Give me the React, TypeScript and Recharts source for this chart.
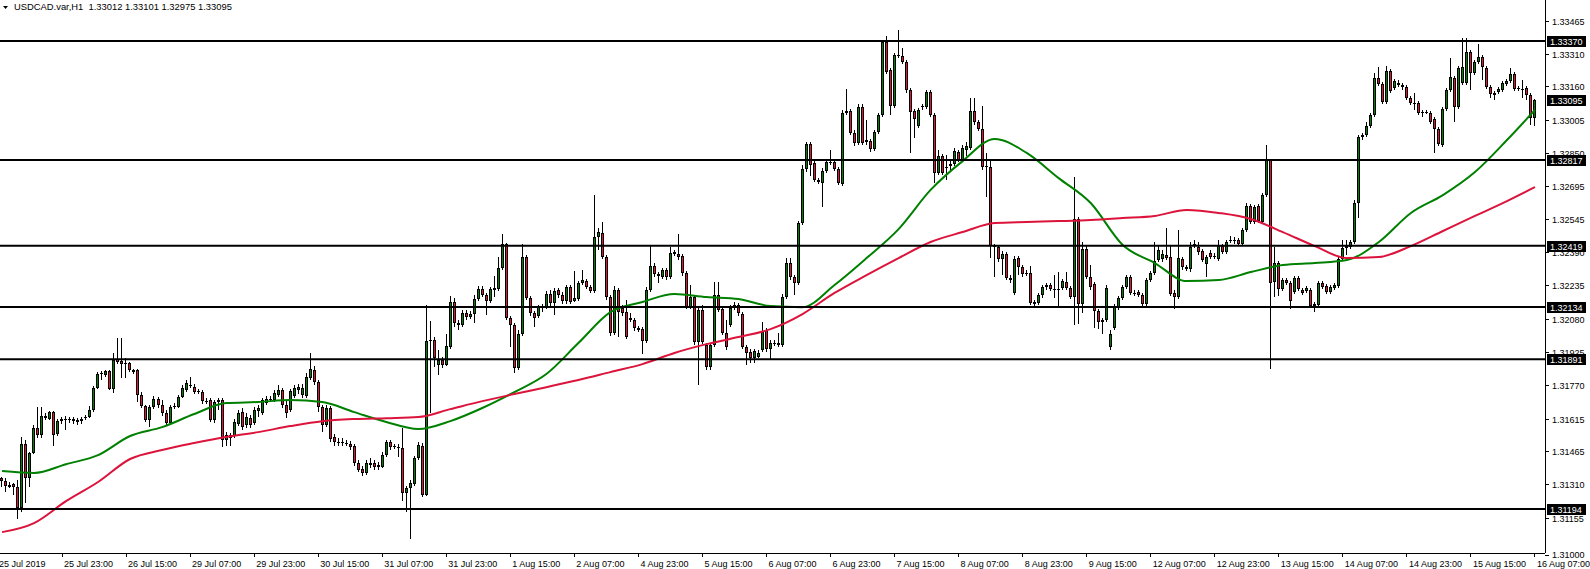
import React from 'react';
import { ComposedChart, Bar, Line, XAxis, YAxis, ReferenceLine } from 'recharts';

const FONT = '"Liberation Sans", Arial, sans-serif';
const GREEN = '#008000';
const RED = '#dc143c';
const AXIS_X = 1545;
const PLOT_BOTTOM = 553;

const opens = [
1.31338,1.31324,1.31306,1.31310,1.31296,1.31199,1.31496,1.31338,1.31455,1.31571,1.31538,1.31627,1.31613,1.31645,1.31543,1.31603,
1.31613,1.31608,1.31613,1.31608,1.31603,1.31617,1.31622,1.31655,1.31757,1.31822,1.31817,1.31836,1.31752,1.31892,1.31882,1.31875,
1.31873,1.31840,1.31840,1.31724,1.31673,1.31608,1.31668,1.31706,1.31678,1.31641,1.31594,1.31668,1.31668,1.31715,1.31748,1.31773,
1.31761,1.31738,1.31738,1.31698,1.31701,1.31608,1.31692,1.31701,1.31515,1.31538,1.31534,1.31589,1.31645,1.31585,1.31617,1.31594,
1.31650,1.31641,1.31687,1.31704,1.31701,1.31724,1.31748,1.31678,1.31655,1.31720,1.31748,1.31724,1.31720,1.31803,1.31840,1.31785,
1.31668,1.31585,1.31664,1.31529,1.31506,1.31501,1.31503,1.31496,1.31487,1.31408,1.31380,1.31362,1.31408,1.31408,1.31399,1.31389,
1.31445,1.31506,1.31487,1.31482,1.31478,1.31269,1.31292,1.31310,1.31431,1.31487,1.31259,1.31975,1.31980,1.31864,1.31887,1.31864,
1.31947,1.32157,1.32059,1.32050,1.32106,1.32087,1.32101,1.32171,1.32217,1.32189,1.32161,1.32215,1.32217,1.32315,1.32426,1.32082,
1.32050,1.31850,1.32008,1.32366,1.32175,1.32106,1.32092,1.32133,1.32133,1.32194,1.32152,1.32213,1.32189,1.32161,1.32226,1.32161,
1.32171,1.32245,1.32254,1.32226,1.32208,1.32459,1.32478,1.32366,1.32180,1.32013,1.32213,1.32129,1.32110,1.32082,1.32073,1.32036,
1.32031,1.31975,1.32213,1.32324,1.32287,1.32273,1.32306,1.32273,1.32380,1.32380,1.32371,1.32292,1.32133,1.32180,1.31971,1.32120,
1.31957,1.31854,1.31957,1.32189,1.32124,1.32013,1.32050,1.32129,1.32143,1.32101,1.31947,1.31924,1.31896,1.31901,1.31934,1.32027,
1.31938,1.31968,1.31966,1.31957,1.32180,1.32338,1.32273,1.32245,1.32524,1.32775,1.32891,1.32803,1.32724,1.32710,1.32766,1.32810,
1.32808,1.32775,1.32705,1.33036,1.33045,1.32943,1.32896,1.33063,1.32910,1.32905,1.32868,1.32947,1.33026,1.33366,1.33236,1.33068,
1.33301,1.33301,1.33273,1.33143,1.33045,1.32975,1.33063,1.33063,1.33133,1.33026,1.32757,1.32836,1.32784,1.32798,1.32798,1.32854,
1.32817,1.32864,1.32873,1.33045,1.32994,1.32961,1.32789,1.32784,1.32417,1.32412,1.32357,1.32380,1.32268,1.32199,1.32361,1.32319,
1.32292,1.32292,1.32157,1.32152,1.32189,1.32226,1.32236,1.32219,1.32215,1.32222,1.32250,1.32222,1.32180,1.32543,1.32147,1.32403,
1.32273,1.32240,1.32115,1.32073,1.32073,1.31947,1.32036,1.32133,1.32175,1.32226,1.32273,1.32201,1.32203,1.32189,1.32147,1.32259,
1.32292,1.32352,1.32357,1.32375,1.32366,1.32199,1.32180,1.32357,1.32319,1.32310,1.32422,1.32412,1.32394,1.32333,1.32385,1.32371,
1.32357,1.32417,1.32389,1.32440,1.32447,1.32445,1.32426,1.32492,1.32603,1.32529,1.32603,1.32529,1.32654,1.32817,1.32250,1.32338,
1.32217,1.32259,1.32245,1.32203,1.32268,1.32213,1.32208,1.32213,1.32147,1.32143,1.32245,1.32231,1.32203,1.32222,1.32231,1.32357,
1.32408,1.32412,1.32436,1.32617,1.32924,1.32933,1.32975,1.33026,1.33198,1.33170,1.33087,1.33231,1.33152,1.33175,1.33166,1.33156,
1.33105,1.33080,1.33082,1.33040,1.33038,1.33036,1.33008,1.32961,1.32887,1.33054,1.33143,1.33198,1.33063,1.33175,1.33175,1.33319,
1.33222,1.33273,1.33296,1.33245,1.33156,1.33129,1.33133,1.33143,1.33170,1.33184,1.33217,1.33152,1.33149,1.33152,1.33119,1.33012
];

const highs = [
1.31343,1.31338,1.31320,1.31315,1.31329,1.31529,1.31515,1.31459,1.31585,1.31668,1.31668,1.31641,1.31650,1.31650,1.31613,1.31622,
1.31627,1.31622,1.31622,1.31617,1.31622,1.31631,1.31673,1.31766,1.31831,1.31836,1.31840,1.31840,1.31920,1.31989,1.31989,1.31896,
1.31878,1.31845,1.31845,1.31738,1.31678,1.31678,1.31720,1.31715,1.31701,1.31655,1.31678,1.31687,1.31724,1.31771,1.31794,1.31808,
1.31775,1.31752,1.31748,1.31710,1.31710,1.31701,1.31710,1.31710,1.31552,1.31548,1.31613,1.31655,1.31664,1.31641,1.31631,1.31668,
1.31678,1.31710,1.31720,1.31720,1.31748,1.31771,1.31757,1.31701,1.31752,1.31771,1.31775,1.31775,1.31827,1.31920,1.31859,1.31794,
1.31678,1.31678,1.31673,1.31543,1.31524,1.31524,1.31515,1.31510,1.31496,1.31422,1.31394,1.31422,1.31431,1.31422,1.31413,1.31459,
1.31515,1.31515,1.31496,1.31496,1.31571,1.31301,1.31329,1.31441,1.31506,1.31501,1.32143,1.32068,1.31994,1.31934,1.31901,1.32008,
1.32185,1.32175,1.32073,1.32120,1.32120,1.32115,1.32189,1.32231,1.32231,1.32199,1.32226,1.32278,1.32366,1.32473,1.32431,1.32092,
1.32059,1.32027,1.32426,1.32375,1.32185,1.32115,1.32143,1.32147,1.32208,1.32213,1.32222,1.32222,1.32203,1.32236,1.32236,1.32301,
1.32254,1.32306,1.32264,1.32236,1.32654,1.32501,1.32529,1.32375,1.32189,1.32231,1.32222,1.32143,1.32166,1.32106,1.32082,1.32045,
1.32040,1.32226,1.32417,1.32338,1.32296,1.32315,1.32315,1.32412,1.32399,1.32473,1.32380,1.32301,1.32236,1.32189,1.32129,1.32143,
1.31966,1.31966,1.32250,1.32250,1.32133,1.32073,1.32143,1.32157,1.32152,1.32110,1.31957,1.31938,1.31938,1.31934,1.32064,1.32036,
1.31980,1.31980,1.32013,1.32194,1.32361,1.32361,1.32282,1.32533,1.32794,1.32901,1.32901,1.32812,1.32733,1.32780,1.32817,1.32864,
1.32817,1.32784,1.33050,1.33147,1.33054,1.32957,1.33077,1.33077,1.33003,1.32915,1.32957,1.33036,1.33375,1.33394,1.33245,1.33315,
1.33422,1.33338,1.33282,1.33152,1.33054,1.33059,1.33077,1.33143,1.33143,1.33036,1.32864,1.32845,1.32840,1.32817,1.32873,1.32864,
1.32887,1.32901,1.33105,1.33105,1.33003,1.33068,1.32850,1.32817,1.32426,1.32422,1.32394,1.32389,1.32282,1.32371,1.32371,1.32329,
1.32306,1.32324,1.32166,1.32199,1.32236,1.32245,1.32245,1.32282,1.32296,1.32264,1.32296,1.32231,1.32738,1.32552,1.32436,1.32417,
1.32329,1.32250,1.32124,1.32082,1.32236,1.32027,1.32147,1.32185,1.32236,1.32282,1.32282,1.32213,1.32213,1.32199,1.32268,1.32301,
1.32436,1.32422,1.32399,1.32501,1.32422,1.32213,1.32492,1.32366,1.32329,1.32436,1.32445,1.32436,1.32403,1.32375,1.32399,1.32385,
1.32445,1.32426,1.32445,1.32464,1.32459,1.32454,1.32501,1.32617,1.32612,1.32608,1.32612,1.32664,1.32887,1.32822,1.32412,1.32347,
1.32268,1.32268,1.32254,1.32278,1.32278,1.32222,1.32231,1.32222,1.32157,1.32254,1.32254,1.32240,1.32236,1.32245,1.32366,1.32445,
1.32445,1.32445,1.32631,1.32933,1.32943,1.32994,1.33036,1.33222,1.33249,1.33180,1.33254,1.33240,1.33194,1.33189,1.33175,1.33166,
1.33115,1.33129,1.33091,1.33050,1.33050,1.33045,1.33017,1.32970,1.33063,1.33152,1.33291,1.33208,1.33254,1.33384,1.33384,1.33329,
1.33282,1.33356,1.33305,1.33254,1.33166,1.33138,1.33156,1.33184,1.33194,1.33245,1.33226,1.33161,1.33189,1.33161,1.33129,1.33101
];

const lows = [
1.31296,1.31273,1.31292,1.31259,1.31148,1.31180,1.31222,1.31296,1.31450,1.31524,1.31524,1.31608,1.31608,1.31487,1.31534,1.31589,
1.31562,1.31594,1.31589,1.31585,1.31589,1.31608,1.31617,1.31645,1.31752,1.31794,1.31808,1.31748,1.31734,1.31868,1.31803,1.31803,
1.31831,1.31822,1.31692,1.31664,1.31599,1.31575,1.31659,1.31664,1.31627,1.31585,1.31585,1.31659,1.31664,1.31710,1.31738,1.31757,
1.31729,1.31729,1.31682,1.31682,1.31599,1.31594,1.31655,1.31482,1.31487,1.31487,1.31524,1.31580,1.31562,1.31571,1.31571,1.31585,
1.31622,1.31631,1.31678,1.31692,1.31692,1.31715,1.31664,1.31617,1.31645,1.31710,1.31729,1.31710,1.31710,1.31794,1.31771,1.31645,
1.31552,1.31575,1.31506,1.31487,1.31487,1.31487,1.31487,1.31469,1.31394,1.31366,1.31348,1.31352,1.31385,1.31376,1.31376,1.31385,
1.31436,1.31469,1.31473,1.31436,1.31231,1.31180,1.31055,1.31301,1.31422,1.31250,1.31255,1.31641,1.31854,1.31817,1.31850,1.31859,
1.31938,1.32040,1.32027,1.32040,1.32073,1.32078,1.32059,1.32161,1.32180,1.32096,1.32152,1.32180,1.32208,1.32305,1.32073,1.31947,
1.31827,1.31840,1.31999,1.32166,1.32092,1.32040,1.32082,1.32110,1.32124,1.32138,1.32096,1.32175,1.32147,1.32147,1.32147,1.32157,
1.32161,1.32236,1.32217,1.32199,1.32199,1.32399,1.32357,1.32166,1.31999,1.32003,1.31994,1.32092,1.31985,1.32064,1.32022,1.32017,
1.31915,1.31966,1.32203,1.32273,1.32245,1.32264,1.32259,1.32264,1.32371,1.32352,1.32278,1.32124,1.32124,1.31957,1.31771,1.31961,
1.31840,1.31840,1.31947,1.32110,1.32003,1.31934,1.32040,1.32120,1.32092,1.31938,1.31864,1.31873,1.31873,1.31896,1.31924,1.31924,
1.31887,1.31952,1.31947,1.31947,1.32171,1.32259,1.32189,1.32236,1.32515,1.32761,1.32743,1.32715,1.32705,1.32598,1.32757,1.32794,
1.32766,1.32701,1.32696,1.33026,1.32933,1.32882,1.32887,1.32887,1.32887,1.32854,1.32859,1.32938,1.33017,1.33217,1.33026,1.33059,
1.33291,1.33263,1.33129,1.32850,1.32919,1.32966,1.33050,1.33054,1.33017,1.32710,1.32747,1.32747,1.32724,1.32771,1.32789,1.32808,
1.32808,1.32836,1.32864,1.32980,1.32952,1.32771,1.32645,1.32361,1.32273,1.32343,1.32282,1.32259,1.32245,1.32189,1.32282,1.32273,
1.32278,1.32143,1.32138,1.32143,1.32175,1.32213,1.32208,1.32175,1.32138,1.32213,1.32213,1.32171,1.32050,1.32054,1.32106,1.32264,
1.32213,1.32036,1.32031,1.32008,1.32064,1.31934,1.32027,1.32120,1.32166,1.32217,1.32189,1.32185,1.32180,1.32138,1.32138,1.32250,
1.32282,1.32343,1.32343,1.32352,1.32185,1.32124,1.32171,1.32306,1.32301,1.32296,1.32408,1.32375,1.32343,1.32273,1.32357,1.32357,
1.32347,1.32380,1.32380,1.32431,1.32426,1.32417,1.32417,1.32482,1.32519,1.32519,1.32524,1.32519,1.32645,1.31845,1.32180,1.32185,
1.32208,1.32236,1.32124,1.32194,1.32208,1.32189,1.32199,1.32129,1.32110,1.32133,1.32217,1.32194,1.32194,1.32213,1.32222,1.32347,
1.32375,1.32403,1.32426,1.32547,1.32910,1.32924,1.32966,1.33017,1.33161,1.33077,1.33077,1.33129,1.33143,1.33156,1.33143,1.33096,
1.33073,1.33050,1.33026,1.33017,1.33031,1.32984,1.32850,1.32882,1.32877,1.33045,1.33133,1.32994,1.33054,1.33166,1.33166,1.33143,
1.33212,1.33263,1.33189,1.33147,1.33105,1.33096,1.33124,1.33133,1.33161,1.33175,1.33138,1.33138,1.33105,1.33096,1.32980,1.32975
];

const closes = [
1.31324,1.31301,1.31296,1.31296,1.31199,1.31496,1.31338,1.31455,1.31571,1.31538,1.31627,1.31617,1.31645,1.31538,1.31603,1.31613,
1.31608,1.31613,1.31603,1.31599,1.31613,1.31622,1.31655,1.31757,1.31822,1.31827,1.31836,1.31752,1.31887,1.31878,1.31868,1.31871,
1.31840,1.31831,1.31724,1.31673,1.31608,1.31668,1.31706,1.31678,1.31641,1.31594,1.31668,1.31673,1.31715,1.31757,1.31780,1.31769,
1.31738,1.31743,1.31696,1.31694,1.31608,1.31692,1.31701,1.31515,1.31538,1.31524,1.31599,1.31641,1.31575,1.31622,1.31585,1.31655,
1.31664,1.31701,1.31706,1.31708,1.31734,1.31748,1.31678,1.31641,1.31743,1.31757,1.31760,1.31757,1.31808,1.31845,1.31785,1.31668,
1.31585,1.31664,1.31520,1.31506,1.31501,1.31506,1.31499,1.31482,1.31408,1.31376,1.31362,1.31408,1.31399,1.31389,1.31389,1.31445,
1.31506,1.31482,1.31482,1.31478,1.31269,1.31292,1.31315,1.31431,1.31492,1.31259,1.31975,1.31982,1.31896,1.31887,1.31864,1.31952,
1.32157,1.32059,1.32050,1.32106,1.32087,1.32101,1.32171,1.32217,1.32189,1.32161,1.32217,1.32220,1.32315,1.32426,1.32082,1.32050,
1.31850,1.32008,1.32366,1.32175,1.32106,1.32082,1.32133,1.32129,1.32194,1.32152,1.32208,1.32189,1.32161,1.32226,1.32157,1.32175,
1.32245,1.32259,1.32226,1.32208,1.32459,1.32482,1.32366,1.32180,1.32013,1.32213,1.32110,1.32106,1.31994,1.32073,1.32036,1.32027,
1.31975,1.32213,1.32324,1.32287,1.32278,1.32306,1.32273,1.32385,1.32389,1.32366,1.32292,1.32133,1.32180,1.31971,1.32120,1.31971,
1.31854,1.31957,1.32189,1.32120,1.32013,1.31947,1.32129,1.32143,1.32106,1.31947,1.31920,1.31896,1.31929,1.31920,1.32017,1.31938,
1.31966,1.31964,1.31957,1.32180,1.32338,1.32273,1.32245,1.32524,1.32775,1.32891,1.32794,1.32724,1.32715,1.32766,1.32808,1.32803,
1.32775,1.32710,1.33036,1.33045,1.32943,1.32896,1.33063,1.32896,1.32901,1.32868,1.32947,1.33026,1.33366,1.33226,1.33068,1.33305,
1.33305,1.33273,1.33143,1.33040,1.33008,1.33050,1.33068,1.33133,1.33026,1.32757,1.32836,1.32757,1.32780,1.32789,1.32859,1.32817,
1.32873,1.32882,1.33045,1.32994,1.32961,1.32784,1.32784,1.32417,1.32412,1.32357,1.32380,1.32268,1.32259,1.32357,1.32319,1.32287,
1.32287,1.32152,1.32147,1.32189,1.32226,1.32236,1.32217,1.32215,1.32219,1.32254,1.32222,1.32180,1.32543,1.32147,1.32403,1.32273,
1.32226,1.32115,1.32064,1.32064,1.32222,1.32008,1.32133,1.32175,1.32226,1.32273,1.32199,1.32197,1.32189,1.32147,1.32259,1.32292,
1.32347,1.32399,1.32380,1.32361,1.32194,1.32180,1.32361,1.32319,1.32310,1.32412,1.32426,1.32389,1.32352,1.32366,1.32366,1.32366,
1.32417,1.32389,1.32436,1.32445,1.32443,1.32426,1.32492,1.32603,1.32529,1.32598,1.32533,1.32654,1.32817,1.32245,1.32338,1.32217,
1.32259,1.32245,1.32161,1.32268,1.32217,1.32199,1.32222,1.32138,1.32138,1.32245,1.32226,1.32203,1.32226,1.32236,1.32357,1.32408,
1.32417,1.32436,1.32617,1.32924,1.32933,1.32975,1.33026,1.33198,1.33170,1.33087,1.33231,1.33138,1.33184,1.33166,1.33156,1.33105,
1.33082,1.33084,1.33036,1.33036,1.33035,1.32994,1.32961,1.32891,1.33054,1.33143,1.33203,1.33063,1.33245,1.33249,1.33319,1.33222,
1.33273,1.33296,1.33249,1.33156,1.33124,1.33119,1.33147,1.33175,1.33184,1.33217,1.33147,1.33147,1.33145,1.33119,1.33012,1.33095
];

// moving averages read at sample bars
const maIdx = [0,8,16,24,32,40,48,56,64,72,80,88,96,104,112,120,128,136,144,152,160,168,176,184,192,200,208,216,224,232,240,248,256,264,272,280,288,296,304,312,320,328,336,344,352,360,368,376,383];
const maGreen = [1.31371,1.31362,1.31403,1.31445,1.31534,1.31575,1.31636,1.31687,1.31692,1.31701,1.31692,1.31645,1.31599,1.31566,1.31603,1.31664,1.31738,1.31822,1.31966,1.32110,1.32157,1.32194,1.32180,1.32171,1.32138,1.32133,1.32236,1.32361,1.32496,1.32678,1.32812,1.32915,1.32850,1.32733,1.32617,1.32422,1.32338,1.32254,1.32259,1.32296,1.32329,1.32338,1.32352,1.32436,1.32571,1.32654,1.32761,1.32910,1.33050];
const maRed = [1.31087,1.31129,1.31231,1.31320,1.31427,1.31469,1.31501,1.31529,1.31552,1.31580,1.31603,1.31613,1.31617,1.31622,1.31659,1.31696,1.31729,1.31761,1.31794,1.31831,1.31868,1.31920,1.31961,1.31994,1.32031,1.32101,1.32199,1.32282,1.32361,1.32436,1.32482,1.32524,1.32529,1.32533,1.32538,1.32547,1.32557,1.32585,1.32571,1.32543,1.32482,1.32417,1.32361,1.32366,1.32417,1.32487,1.32557,1.32626,1.32691];

const levels = [1.33370, 1.32817, 1.32419, 1.32134, 1.31891, 1.31194];
const currentPrice = 1.33095;
const priceTicks = [1.33465,1.33310,1.33160,1.33005,1.32850,1.32695,1.32545,1.32390,1.32235,1.32080,1.31925,1.31770,1.31615,1.31465,1.31310,1.31155,1.31000];
const priceDomain = [1.30990, 1.33561];
const tickBars = [0,15,31,47,63,79,95,111,127,143,159,175,191,207,223,239,255,271,287,303,319,335,351,367,383];
const tickLabels = ['25 Jul 2019','25 Jul 23:00','26 Jul 15:00','29 Jul 07:00','29 Jul 23:00','30 Jul 15:00','31 Jul 07:00','31 Jul 23:00','1 Aug 15:00','2 Aug 07:00','4 Aug 23:00','5 Aug 15:00','6 Aug 07:00','6 Aug 23:00','7 Aug 15:00','8 Aug 07:00','8 Aug 23:00','9 Aug 15:00','12 Aug 07:00','12 Aug 23:00','13 Aug 15:00','14 Aug 07:00','14 Aug 23:00','15 Aug 15:00','16 Aug 07:00'];
const symbol = 'USDCAD.var,H1';
const EMPTY_SLOTS = 2; // chart shift on the right

const data: any[] = [];
for (let i = 0; i < opens.length + EMPTY_SLOTS; i++) {
  const row: any = { i };
  if (i < opens.length) {
    row.open = opens[i];
    row.high = highs[i];
    row.low = lows[i];
    row.close = closes[i];
    row.range = [lows[i], highs[i]];
  }
  const m = maIdx.indexOf(i);
  if (m >= 0) {
    row.maG = maGreen[m];
    row.maR = maRed[m];
  }
  data.push(row);
}

const Candle = (props: any) => {
  const { x, y, width, height, payload } = props;
  if (!payload || payload.open == null || !isFinite(y) || !isFinite(height)) return <g />;
  const top = Math.min(y, y + height);
  const h = Math.abs(height);
  const { open, close, high, low } = payload;
  const span = high - low;
  const yOf = (p: number) => (span > 0 ? top + ((high - p) / span) * h : top);
  const cx = Math.floor(x + width / 2);
  const wTop = Math.round(top);
  const wBot = Math.round(top + h);
  const bTop = Math.round(yOf(Math.max(open, close)));
  let bBot = Math.round(yOf(Math.min(open, close)));
  if (bBot - bTop < 1) bBot = bTop + 1;
  const fill = close > open ? GREEN : RED;
  return (
    <g shapeRendering="crispEdges">
      <rect x={cx} y={wTop} width={1} height={Math.max(1, wBot - wTop)} fill="#000" />
      <rect x={cx - 1} y={bTop} width={3} height={bBot - bTop} fill="#000" />
      {bBot - bTop > 2 && <rect x={cx} y={bTop + 1} width={1} height={bBot - bTop - 2} fill={fill} />}
    </g>
  );
};

const PriceTick = (props: any) => {
  const { y, payload } = props;
  let ty = Math.round(y) + 0.5;
  let textY = ty;
  if (ty > PLOT_BOTTOM - 6) {
    ty += 4;
    textY = ty - 1;
  }
  return (
    <g>
      <line x1={AXIS_X} x2={AXIS_X + 4} y1={ty} y2={ty} stroke="#000" strokeWidth={1} />
      <text x={AXIS_X + 7} y={textY} dominantBaseline="central" fontSize={9} fontFamily={FONT} fill="#000">
        {Number(payload.value).toFixed(5)}
      </text>
    </g>
  );
};

const TimeTick = (props: any) => {
  const { x, payload } = props;
  const idx = tickBars.indexOf(payload.value);
  if (idx < 0) return <g />;
  const first = idx === 0;
  const tx = Math.floor(x) + 0.5;
  return (
    <g>
      {!first && <line x1={tx} x2={tx} y1={PLOT_BOTTOM} y2={PLOT_BOTTOM + 4} stroke="#000" strokeWidth={1} />}
      <text x={first ? x - 3 : x + 2} y={PLOT_BOTTOM + 11} dominantBaseline="central" fontSize={9} fontFamily={FONT} fill="#000">
        {tickLabels[idx]}
      </text>
    </g>
  );
};

const PriceBox = (props: any) => {
  const { viewBox, text } = props;
  if (!viewBox) return <g />;
  const ly = Math.round(viewBox.y);
  return (
    <g>
      <rect x={AXIS_X + 2} y={ly - 5} width={39} height={11} fill="#000" shapeRendering="crispEdges" />
      <text x={AXIS_X + 5} y={ly + 0.5} dominantBaseline="central" fontSize={9} fontFamily={FONT} fill="#fff">
        {text}
      </text>
    </g>
  );
};

export default function App() {
  const last = opens.length - 1;
  const title = `${symbol}  ${opens[last].toFixed(5)} ${highs[last].toFixed(5)} ${lows[last].toFixed(5)} ${closes[last].toFixed(5)}`;
  return (
    <div style={{ position: 'absolute', left: 0, top: 0, width: 1590, height: 569, background: '#fff' }}>
      <ComposedChart width={1590} height={569} data={data} margin={{ top: 0, right: 0, bottom: 0, left: 0 }}>
        <XAxis
          dataKey="i"
          type="category"
          ticks={tickBars}
          interval={0}
          tick={<TimeTick />}
          tickLine={false}
          axisLine={{ stroke: '#000', shapeRendering: 'crispEdges' }}
          height={16}
        />
        <YAxis
          orientation="right"
          width={45}
          domain={priceDomain}
          allowDataOverflow
          ticks={priceTicks}
          interval={0}
          tick={<PriceTick />}
          tickLine={false}
          axisLine={{ stroke: '#000', shapeRendering: 'crispEdges' }}
        />
        <Bar dataKey="range" shape={<Candle />} isAnimationActive={false} />
        <Line type="monotone" dataKey="maG" stroke={GREEN} strokeWidth={2} dot={false} activeDot={false} connectNulls isAnimationActive={false} />
        <Line type="monotone" dataKey="maR" stroke={RED} strokeWidth={2} dot={false} activeDot={false} connectNulls isAnimationActive={false} />
        {levels.map((lv) => (
          <ReferenceLine
            key={lv}
            y={lv}
            stroke="#000"
            strokeWidth={2}
            label={(p: any) => <PriceBox viewBox={p.viewBox} text={lv.toFixed(5)} />}
          />
        ))}
        <ReferenceLine
          y={currentPrice}
          stroke="none"
          strokeOpacity={0}
          label={(p: any) => <PriceBox viewBox={p.viewBox} text={currentPrice.toFixed(5)} />}
        />
      </ComposedChart>
      <svg style={{ position: 'absolute', left: 0, top: 0, pointerEvents: 'none' }} width={320} height={14}>
        <polygon points="3,6 8,6 5.5,9" fill="#000" />
        <text x={14} y={10} fontSize={9.4} fontFamily={FONT} fill="#000" style={{ whiteSpace: 'pre' }}>
          {title}
        </text>
      </svg>
    </div>
  );
}
